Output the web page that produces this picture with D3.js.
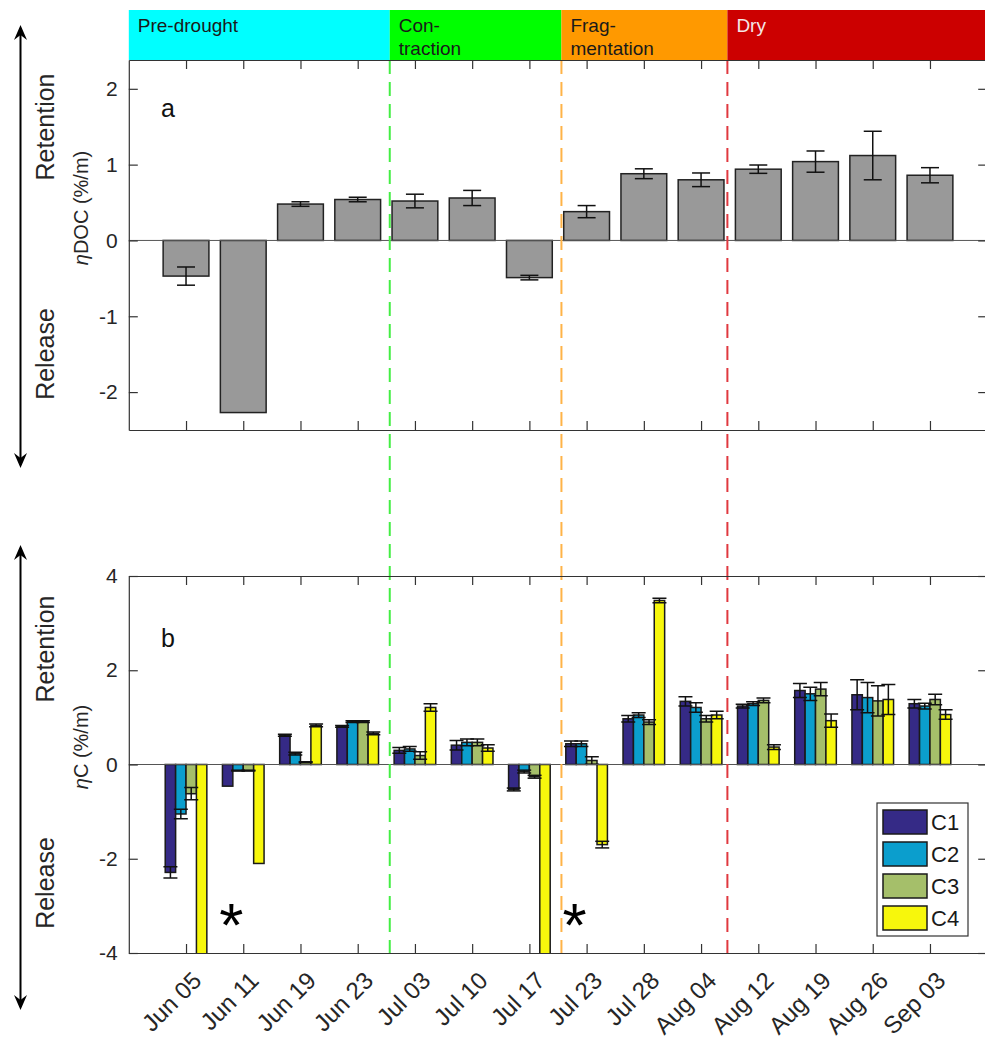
<!DOCTYPE html>
<html>
<head>
<meta charset="utf-8">
<script src="https://cdn.jsdelivr.net/npm/d3@7"></script>
<style>
  html, body { margin: 0; padding: 0; background: #fff; }
  svg { display: block; font-family: "Liberation Sans", Arial, Helvetica, sans-serif; }
</style>
</head>
<body>
<svg id="chart" width="985" height="1038"></svg>
<script>
// Sampling dates along the drying river
const dates = ["Jun 05","Jun 11","Jun 19","Jun 23","Jul 03","Jul 10","Jul 17",
               "Jul 23","Jul 28","Aug 04","Aug 12","Aug 19","Aug 26","Sep 03"];

// Panel a: DOC retention coefficient (%/m) and its error
const docValues = [-0.47, -2.27, 0.48, 0.54, 0.52, 0.56, -0.49, 0.38, 0.88, 0.80, 0.94, 1.04, 1.12, 0.86];
const docErrors = [0.12, 0, 0.03, 0.03, 0.09, 0.10, 0.03, 0.08, 0.065, 0.09, 0.055, 0.14, 0.32, 0.10];

// Panel b: PARAFAC components
const componentNames = ["C1", "C2", "C3", "C4"];
const componentColors = ["#352a86", "#0b9ecd", "#a5bf6a", "#f7f70c"];
const c1Values = [-2.29, -0.46, 0.62, 0.81, 0.30, 0.41, -0.53, 0.44, 0.97, 1.34, 1.24, 1.57, 1.48, 1.29];
const c1Errors = [0.12, 0, 0.02, 0.02, 0.06, 0.10, 0.03, 0.06, 0.07, 0.10, 0.04, 0.15, 0.32, 0.09];
const c2Values = [-1.05, -0.13, 0.23, 0.91, 0.33, 0.47, -0.15, 0.44, 1.05, 1.21, 1.29, 1.50, 1.42, 1.24];
const c2Errors = [0.10, 0.01, 0.03, 0.02, 0.05, 0.07, 0.03, 0.06, 0.05, 0.10, 0.04, 0.14, 0.32, 0.06];
const c3Values = [-0.62, -0.13, 0.05, 0.91, 0.19, 0.47, -0.26, 0.085, 0.90, 0.97, 1.36, 1.60, 1.35, 1.38];
const c3Errors = [0.13, 0.01, 0.01, 0.02, 0.08, 0.07, 0.03, 0.08, 0.05, 0.07, 0.05, 0.14, 0.32, 0.11];
const c4Values = [-5.0, -2.10, 0.83, 0.66, 1.21, 0.35, -5.0, -1.70, 3.48, 1.05, 0.37, 0.93, 1.38, 1.06];
const c4Errors = [0, 0, 0.03, 0.03, 0.08, 0.07, 0, 0.07, 0.05, 0.08, 0.05, 0.14, 0.32, 0.10];

// Hydrological phases (boundaries in category units)
const phaseNames = ["Pre-drought", "Con-\ntraction", "Frag-\nmentation", "Dry"];
const phaseBounds = [0, 4.56, 7.56, 10.46, 15];
const phaseColors = ["#00ffff", "#00ff00", "#ff9900", "#cc0000"];
const phaseTextColors = ["#1a1a1a", "#1a1a1a", "#1a1a1a", "#f4e6e6"];
const phaseLineColors = ["#44ee44", "#ffb347", "#e0383f"];

// Axis ticks
const docTicks = [-2, -1, 0, 1, 2];
const cTicks = [-4, -2, 0, 2, 4];

// Dates whose C4 value is marked as off-scale
const starDates = ["Jun 11", "Jul 23"];

const svg = d3.select("#chart");
const axisColor = "#333";

const x = d3.scaleLinear().domain([0, 15]).range([128.8, 987.2]);
const step = x(1) - x(0);
const yA = d3.scaleLinear().domain([-2.5, 2.38]).range([430, 60]);
const yB = d3.scaleLinear().domain([-4, 4]).range([953, 576]);

// ---- phase band across the top
const band = svg.append("g");
phaseNames.forEach((name, i) => {
  const x0 = x(phaseBounds[i]), x1 = x(phaseBounds[i + 1]);
  band.append("rect").attr("x", x0).attr("y", 10).attr("width", x1 - x0).attr("height", 50)
    .attr("fill", phaseColors[i]);
  const t = band.append("text").attr("x", x0 + 9).attr("y", 32)
    .attr("font-size", 19).attr("fill", phaseTextColors[i]);
  name.split("\n").forEach((line, k) => {
    t.append("tspan").attr("x", x0 + 9).attr("dy", k === 0 ? 0 : 23).text(line);
  });
});

// ---- panel a bars
const gA = svg.append("g");
const barW = 0.8 * step;
gA.selectAll("rect.bar").data(docValues).join("rect")
  .attr("class", "bar")
  .attr("x", (d, i) => x(i + 1) - barW / 2)
  .attr("width", barW)
  .attr("y", d => yA(Math.max(0, d)))
  .attr("height", d => Math.abs(yA(d) - yA(0)))
  .attr("fill", "#999999").attr("stroke", "#222").attr("stroke-width", 1.5);

function errorBar(g, cx, v, e, y, cap) {
  if (e <= 0) return;
  g.append("line").attr("x1", cx).attr("x2", cx).attr("y1", y(v - e)).attr("y2", y(v + e))
    .attr("stroke", "#111").attr("stroke-width", 1.5);
  [v - e, v + e].forEach(vv => {
    g.append("line").attr("x1", cx - cap / 2).attr("x2", cx + cap / 2)
      .attr("y1", y(vv)).attr("y2", y(vv)).attr("stroke", "#111").attr("stroke-width", 1.5);
  });
}
docValues.forEach((v, i) => errorBar(gA, x(i + 1), v, docErrors[i], yA, 18));

// ---- panel b grouped bars (clipped to the axes box)
svg.append("defs").append("clipPath").attr("id", "clipB")
  .append("rect").attr("x", x(0)).attr("y", yB(4)).attr("width", x(15) - x(0)).attr("height", yB(-4) - yB(4));

const gB = svg.append("g").attr("clip-path", "url(#clipB)");
const seriesValues = [c1Values, c2Values, c3Values, c4Values];
const seriesErrors = [c1Errors, c2Errors, c3Errors, c4Errors];
const groupW = step * 4 / 5.5;
const subW = groupW / 4;
seriesValues.forEach((vals, s) => {
  gB.selectAll("rect.s" + s).data(vals).join("rect")
    .attr("class", "s" + s)
    .attr("x", (d, i) => x(i + 1) - groupW / 2 + s * subW)
    .attr("width", subW)
    .attr("y", d => yB(Math.max(0, d)))
    .attr("height", d => Math.abs(yB(d) - yB(0)))
    .attr("fill", componentColors[s]).attr("stroke", "#1a1a1a").attr("stroke-width", 1.5);
});
seriesValues.forEach((vals, s) => {
  vals.forEach((v, i) => {
    const cx = x(i + 1) - groupW / 2 + (s + 0.5) * subW;
    errorBar(gB, cx, v, seriesErrors[s][i], yB, 14);
  });
});

// zero baselines
[yA, yB].forEach(y => {
  svg.append("line").attr("x1", x(0)).attr("x2", x(15)).attr("y1", y(0)).attr("y2", y(0))
    .attr("stroke", "#555").attr("stroke-width", 1);
});

// ---- phase boundaries
phaseBounds.slice(1, 4).forEach((b, i) => {
  svg.append("line").attr("x1", x(b)).attr("x2", x(b)).attr("y1", 60).attr("y2", yB(-4))
    .attr("stroke", phaseLineColors[i]).attr("stroke-width", 2)
    .attr("stroke-dasharray", "14,8");
});

// ---- axes
function boxAxes(y, ticks, top, bottom) {
  const g = svg.append("g");
  g.append("g").attr("transform", `translate(${x(0)},0)`)
    .call(d3.axisLeft(y).tickValues(ticks).tickSize(-9).tickSizeOuter(0).tickPadding(11).tickFormat(d => String(d)));
  g.append("g").attr("transform", `translate(${x(15)},0)`)
    .call(d3.axisRight(y).tickValues(ticks).tickSize(-9).tickSizeOuter(0).tickFormat(""));
  const idx = d3.range(1, 15);
  g.append("g").attr("transform", `translate(0,${bottom})`)
    .call(d3.axisBottom(x).tickValues(idx).tickSize(-9).tickSizeOuter(0).tickFormat(""));
  g.append("g").attr("transform", `translate(0,${top})`)
    .call(d3.axisTop(x).tickValues(idx).tickSize(-9).tickSizeOuter(0).tickFormat(""));
  g.selectAll("path.domain").attr("stroke", axisColor).attr("stroke-width", 1.2);
  g.selectAll(".tick line").attr("stroke", axisColor).attr("stroke-width", 1.2);
  g.selectAll(".tick text").attr("font-size", 21).attr("fill", "#262626")
    .attr("font-family", '"Liberation Sans", Arial, sans-serif');
  return g;
}
boxAxes(yA, docTicks, yA(2.38), yA(-2.5));
boxAxes(yB, cTicks, yB(4), yB(-4));

// rotated date labels
svg.append("g").selectAll("text").data(dates).join("text")
  .attr("transform", (d, i) => `translate(${x(i + 1) + 17},${yB(-4) + 29}) rotate(-45)`)
  .attr("text-anchor", "end").attr("font-size", 24).attr("fill", "#262626")
  .text(d => d);

// panel letters
svg.append("text").attr("x", 161).attr("y", 117).attr("font-size", 25).attr("fill", "#111").text("a");
svg.append("text").attr("x", 161).attr("y", 647).attr("font-size", 25).attr("fill", "#111").text("b");

// off-scale markers
svg.append("g").selectAll("text").data(starDates).join("text")
  .attr("x", d => x(dates.indexOf(d) + 1) - 12)
  .attr("y", 946)
  .attr("text-anchor", "middle").attr("font-size", 62).attr("fill", "#000")
  .text("*");

// ---- legend
const lg = svg.append("g").attr("transform", "translate(877,803)");
lg.append("rect").attr("width", 91).attr("height", 133).attr("fill", "#fff")
  .attr("stroke", "#333").attr("stroke-width", 1.2);
componentNames.forEach((n, i) => {
  lg.append("rect").attr("x", 6).attr("y", 7 + i * 32).attr("width", 44).attr("height", 24)
    .attr("fill", componentColors[i]).attr("stroke", "#1a1a1a").attr("stroke-width", 1.5);
  lg.append("text").attr("x", 54).attr("y", 27 + i * 32).attr("font-size", 22).attr("fill", "#1a1a1a").text(n);
});

// ---- y labels with retention / release arrows
function sideLabels(yTop, yBot, retY, relY, labelY, labelText) {
  const g = svg.append("g");
  g.append("line").attr("x1", 20.5).attr("x2", 20.5).attr("y1", yTop + 3).attr("y2", yBot - 3)
    .attr("stroke", "#000").attr("stroke-width", 2);
  const head = (tipY, dir) => {
    const p = d3.path();
    p.moveTo(20.5, tipY);
    p.lineTo(20.5 - 6.5, tipY + dir * 15);
    p.lineTo(20.5, tipY + dir * 10);
    p.lineTo(20.5 + 6.5, tipY + dir * 15);
    p.closePath();
    g.append("path").attr("d", p.toString()).attr("fill", "#000");
  };
  head(yTop, 1);
  head(yBot, -1);
  g.append("text").attr("transform", `translate(54,${retY}) rotate(-90)`)
    .attr("text-anchor", "middle").attr("font-size", 25).attr("fill", "#262626").text("Retention");
  g.append("text").attr("transform", `translate(54,${relY}) rotate(-90)`)
    .attr("text-anchor", "middle").attr("font-size", 25).attr("fill", "#262626").text("Release");
  const t = g.append("text").attr("transform", `translate(88,${labelY}) rotate(-90)`)
    .attr("text-anchor", "middle").attr("font-size", 20).attr("fill", "#262626");
  t.append("tspan").attr("font-style", "italic").text("η");
  t.append("tspan").text(labelText);
}
sideLabels(25, 468, 127, 354, 208, "DOC (%/m)");
sideLabels(545, 1010, 649, 883, 747, "C (%/m)");
</script>
</body>
</html>
